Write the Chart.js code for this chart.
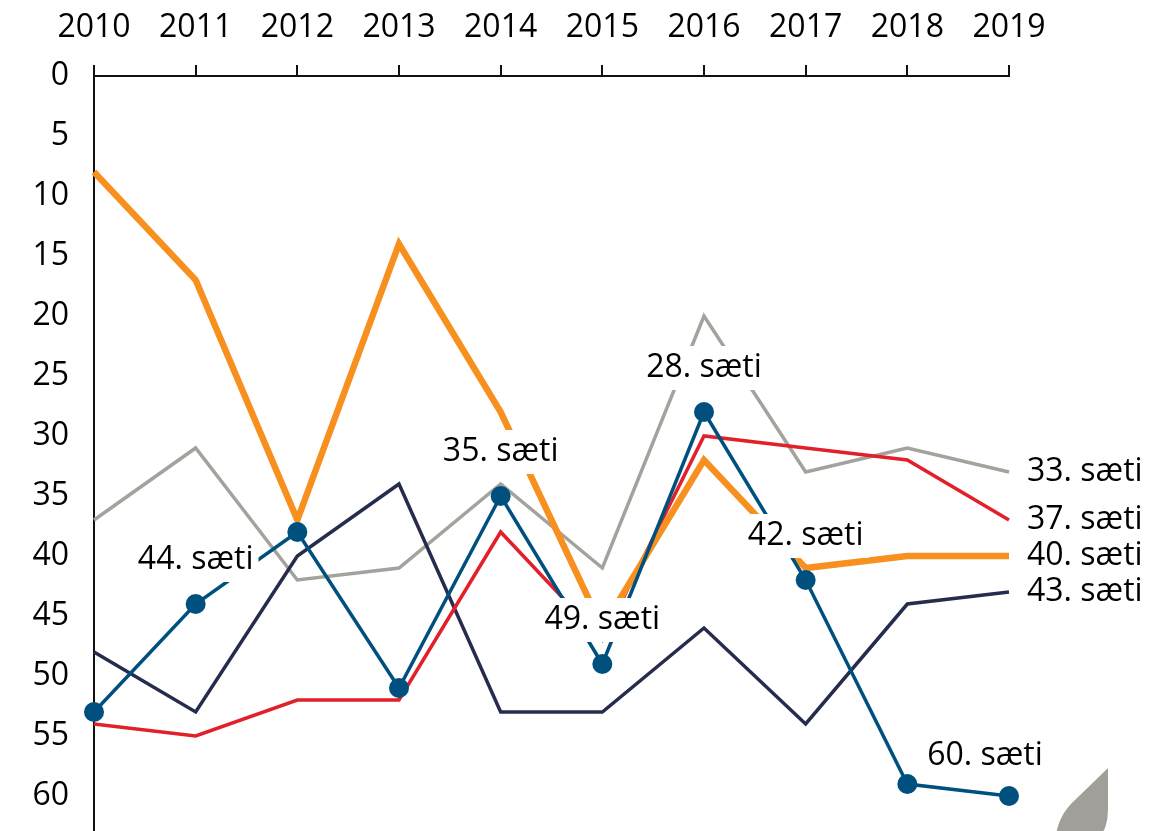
<!DOCTYPE html>
<html>
<head>
<meta charset="utf-8">
<style>
  html, body { margin: 0; padding: 0; background: #ffffff; overflow: hidden; }
  #wrap { width: 1171px; height: 842px; position: relative; }
</style>
<script src="https://cdn.jsdelivr.net/npm/chart.js@4/dist/chart.umd.min.js"></script>
</head>
<body>
<div id="wrap"><canvas id="c"></canvas></div>
<script>
// Ranking per year (lower number = better place)
const years = ['2010', '2011', '2012', '2013', '2014', '2015', '2016', '2017', '2018', '2019'];
const rankBlue   = [53, 44, 38, 51, 35, 49, 28, 42, 59, 60];
const rankOrange = [8, 17, 37, 14, 28, 46, 32, 41, 40, 40];
const rankRed    = [54, 55, 52, 52, 38, 47, 30, 31, 32, 37];
const rankNavy   = [48, 53, 40, 34, 53, 53, 46, 54, 44, 43];
const rankGray   = [37, 31, 42, 41, 34, 41, 20, 33, 31, 33];
const yTicks     = [0, 5, 10, 15, 20, 25, 30, 35, 40, 45, 50, 55, 60];
// Years on the blue line that carry a place label
const blueLabelYears = ['2011', '2014', '2015', '2016', '2017', '2019'];

const FONT = '"Open Sans", sans-serif';
const COLORS = {
  blue: '#00507f',
  orange: '#f7901e',
  red: '#e2202a',
  navy: '#252c4e',
  gray: '#a3a29d'
};

const placeText = v => v + '. sæti';

// Labels above blue points (white box hides lines behind the text)
const placeLabels = {
  id: 'placeLabels',
  afterDatasetsDraw(chart) {
    const ctx = chart.ctx;
    const xs = chart.scales.x, ys = chart.scales.y;
    ctx.save();
    ctx.font = '32px ' + FONT;
    ctx.textBaseline = 'middle';
    ctx.textAlign = 'center';
    blueLabelYears.forEach(yr => {
      const i = years.indexOf(yr);
      const v = rankBlue[i];
      let px = xs.getPixelForValue(i);
      let py = ys.getPixelForValue(v) - 44;
      if (i === years.length - 1) { px -= 24; py += 4; }
      const txt = placeText(v);
      const w = ctx.measureText(txt).width;
      ctx.fillStyle = '#ffffff';
      ctx.fillRect(px - w / 2 - 5, py - 22, w + 10, 44);
      ctx.fillStyle = '#000000';
      ctx.fillText(txt, px, py);
    });

    // End-of-line labels to the right of the plot
    ctx.textAlign = 'left';
    const last = years.length - 1;
    [rankGray, rankRed, rankOrange, rankNavy].forEach(arr => {
      const v = arr[last];
      ctx.fillStyle = '#000000';
      ctx.fillText(placeText(v), chart.chartArea.right + 18, ys.getPixelForValue(v));
    });
    ctx.restore();
  }
};

// Partial leaf emblem in the lower right corner
const emblem = {
  id: 'emblem',
  afterDraw(chart) {
    const ctx = chart.ctx;
    ctx.save();
    ctx.fillStyle = '#a19f9a';
    ctx.beginPath();
    ctx.moveTo(1108, 768);
    ctx.lineTo(1108, 810);
    ctx.quadraticCurveTo(1108, 828, 1098, 840);
    ctx.lineTo(1055, 840);
    ctx.quadraticCurveTo(1058, 815, 1075, 800);
    ctx.closePath();
    ctx.fill();
    ctx.restore();
  }
};

function lineSet(data, color, width, extra) {
  return Object.assign({
    data: data,
    borderColor: color,
    backgroundColor: color,
    borderWidth: width,
    pointRadius: 0,
    pointHoverRadius: 0,
    tension: 0,
    borderJoinStyle: 'miter',
    clip: false
  }, extra || {});
}

function draw() {
  new Chart(document.getElementById('c'), {
    type: 'line',
    data: {
      labels: years,
      datasets: [
        lineSet(rankBlue, COLORS.blue, 3.5, { pointRadius: 10, pointBackgroundColor: COLORS.blue, pointBorderWidth: 0 }),
        lineSet(rankOrange, COLORS.orange, 6.5),
        lineSet(rankRed, COLORS.red, 3.5),
        lineSet(rankNavy, COLORS.navy, 3.5),
        lineSet(rankGray, COLORS.gray, 3.5)
      ]
    },
    options: {
      responsive: true,
      maintainAspectRatio: false,
      animation: false,
      events: [],
      layout: { padding: { left: 0, top: 0, right: 162, bottom: 0 } },
      plugins: { legend: { display: false }, tooltip: { enabled: false } },
      scales: {
        x: {
          type: 'category',
          position: 'top',
          offset: false,
          grid: { drawOnChartArea: false, drawTicks: true, tickLength: 11, color: '#111111', lineWidth: 2 },
          border: { display: true, color: '#111111', width: 2 },
          ticks: { color: '#000000', font: { family: FONT, size: 32 }, padding: 18, maxRotation: 0, autoSkip: false },
          afterFit(scale) { scale.height = 76; scale.paddingLeft = 0; scale.paddingRight = 0; }
        },
        y: {
          type: 'linear',
          reverse: true,
          min: 0,
          max: 63,
          grid: { display: true, drawOnChartArea: false, drawTicks: false },
          border: { display: true, color: '#111111', width: 2 },
          ticks: { color: '#000000', font: { family: FONT, size: 32 }, padding: 25, stepSize: 5 },
          afterBuildTicks(scale) { scale.ticks = yTicks.map(v => ({ value: v })); },
          afterFit(scale) { scale.width = 94; scale.paddingTop = 0; scale.paddingBottom = 0; }
        }
      }
    },
    plugins: [placeLabels, emblem]
  });
}

document.fonts.load('32px "Open Sans"').then(draw, draw);
</script>
</body>
</html>
